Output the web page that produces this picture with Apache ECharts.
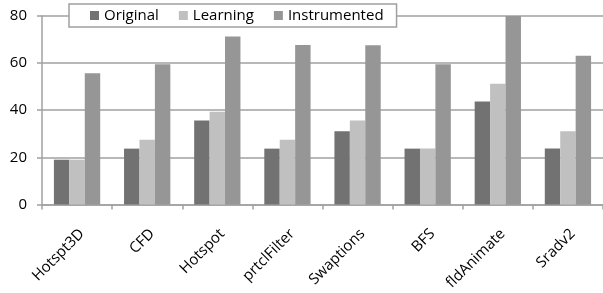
<!DOCTYPE html>
<html><head><meta charset="utf-8">
<script src="https://cdn.jsdelivr.net/npm/echarts@6/dist/echarts.min.js"></script>
<style>html,body{margin:0;padding:0;background:#fff}#c{width:603px;height:293px}</style>
</head><body><div id="c"></div>
<script>
const categories = ['Hotspt3D','CFD','Hotspot','prtclFilter','Swaptions','BFS','fldAnimate','Sradv2'];
const original = [19, 23.7, 35.6, 23.7, 31.1, 23.7, 43.7, 23.7];
const learning = [19, 27.5, 39.4, 27.5, 35.6, 23.7, 51.2, 31.1];
const instrumented = [55.7, 59.5, 71.3, 67.7, 67.6, 59.5, 80, 63.1];
const yTicks = [0, 20, 40, 60, 80];

const font = 'Open Sans';
const chart = echarts.init(document.getElementById('c'));
chart.setOption({
  animation: false,
  grid: {left: 42, right: 0, top: 16, bottom: 86},
  legend: {
    left: 69, top: 4,
    padding: [4, 13, 4, 21],
    backgroundColor: '#fff', borderColor: '#a0a0a0', borderWidth: 1.5,
    icon: 'rect', itemWidth: 9, itemHeight: 9, itemGap: 20,
    textStyle: {fontFamily: font, fontSize: 15, color: '#000'},
    data: ['Original','Learning','Instrumented']
  },
  xAxis: {
    type: 'category', data: categories,
    axisLine: {lineStyle: {color: '#a0a0a0', width: 1.5}},
    axisTick: {show: true, length: 5, lineStyle: {color: '#a0a0a0', width: 1.5}},
    axisLabel: {rotate: 45, fontFamily: font, fontSize: 15, color: '#000', margin: 32, interval: 0,
      padding: [14, -7, 0, 0]}
  },
  yAxis: {
    type: 'value', min: 0, max: 80, interval: 20,
    axisLine: {show: true, lineStyle: {color: '#a0a0a0', width: 1.5}},
    axisTick: {show: true, length: 5, lineStyle: {color: '#a0a0a0', width: 1.5}},
    splitLine: {lineStyle: {color: '#a0a0a0', width: 1.5}},
    axisLabel: {fontFamily: font, fontSize: 15, color: '#000', margin: 15,
      formatter: v => yTicks.includes(v) ? String(v) : ''}
  },
  series: [
    {name: 'Original', type: 'bar', data: original, barGap: '0%', barCategoryGap: '34%', itemStyle: {color: '#727272'}},
    {name: 'Learning', type: 'bar', data: learning, barGap: '0%', barCategoryGap: '34%', itemStyle: {color: '#c0c0c0'}},
    {name: 'Instrumented', type: 'bar', data: instrumented, barGap: '0%', barCategoryGap: '34%', itemStyle: {color: '#969696'}}
  ]
});
</script></body></html>
